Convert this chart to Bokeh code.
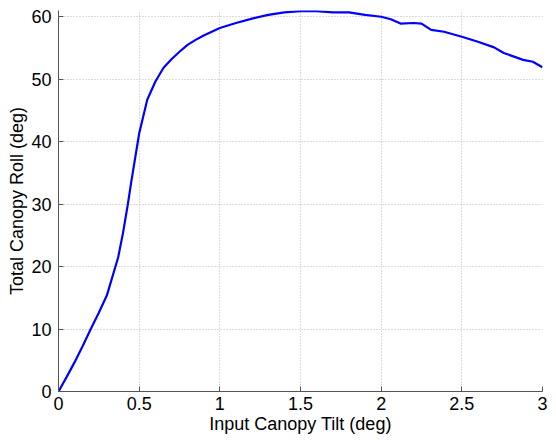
from bokeh.plotting import figure
from bokeh.models import Range1d, FixedTicker
from bokeh.embed import file_html
from bokeh.resources import INLINE

tilt = [0.0, 0.05, 0.1, 0.15, 0.2, 0.25, 0.3, 0.37, 0.4, 0.43, 0.45, 0.5, 0.55,
        0.6, 0.65, 0.7, 0.75, 0.8, 0.85, 0.9, 0.95, 1.0, 1.1, 1.2, 1.3, 1.4, 1.5,
        1.6, 1.7, 1.8, 1.9, 2.0, 2.06, 2.12, 2.2, 2.25, 2.31, 2.39, 2.5, 2.6, 2.7,
        2.76, 2.88, 2.94, 3.0]
roll = [0.0, 2.3, 4.7, 7.3, 10.0, 12.6, 15.4, 21.5, 25.4, 30.0, 33.4, 41.3, 46.7,
        49.6, 51.8, 53.2, 54.4, 55.5, 56.3, 57.0, 57.6, 58.2, 59.0, 59.7, 60.3, 60.7, 60.9,
        60.9, 60.7, 60.7, 60.3, 60.0, 59.6, 58.9, 59.0, 58.9, 57.9, 57.6, 56.8, 56.0, 55.1,
        54.2, 53.1, 52.8, 51.9]

x_ticks = [0, 0.5, 1, 1.5, 2, 2.5, 3]
y_ticks = [0, 10, 20, 30, 40, 50, 60]

p = figure(frame_width=484, frame_height=381, output_backend="svg", toolbar_location=None,
           x_range=Range1d(0, 3), y_range=Range1d(0, 61),
           min_border_left=58, min_border_right=8, min_border_top=10, min_border_bottom=44,
           x_axis_label="Input Canopy Tilt (deg)", y_axis_label="Total Canopy Roll (deg)")
p.outline_line_color = None
p.background_fill_color = "white"
p.border_fill_color = "white"

p.line(tilt, roll, line_color="#0000ff", line_width=2.2)

for ax, ticks in ((p.xaxis[0], x_ticks), (p.yaxis[0], y_ticks)):
    ax.ticker = FixedTicker(ticks=ticks)
    ax.major_tick_in = 5
    ax.major_tick_out = 0
    ax.minor_tick_line_color = None
    ax.axis_line_color = "#555555"
    ax.major_tick_line_color = "#555555"
    ax.major_label_text_font = "Liberation Sans"
    ax.major_label_text_font_size = "18px"
    ax.major_label_text_color = "#000000"
    ax.axis_label_text_font = "Liberation Sans"
    ax.axis_label_text_font_size = "18px"
    ax.axis_label_text_font_style = "normal"
    ax.axis_label_text_color = "#000000"
p.xaxis.major_label_overrides = {0: "0", 1: "1", 2: "2", 3: "3"}
p.xaxis.major_label_standoff = 5
p.xaxis.axis_label_standoff = 1
p.yaxis.major_label_standoff = 7
p.yaxis.axis_label_standoff = 1

for g in (p.xgrid[0], p.ygrid[0]):
    g.grid_line_color = "#b8b8b8"
    g.grid_line_dash = "1 2"
    g.grid_line_width = 1

open("out.html", "w").write(file_html(p, INLINE))
